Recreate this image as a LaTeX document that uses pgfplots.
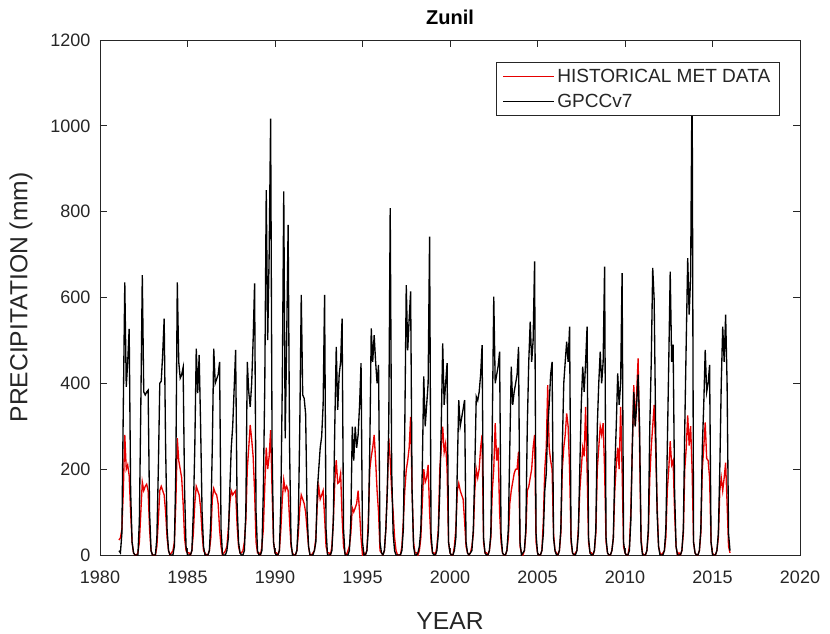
\documentclass[border=0pt]{standalone}
\usepackage{pgfplots}
\pgfplotsset{compat=1.18}
\usepackage{pgfplotstable}
\usepackage{fontspec}
\setmainfont{Liberation Sans}
\definecolor{axgray}{RGB}{38,38,38}
\definecolor{mred}{RGB}{230,0,0}

% monthly values Jan 1981 ... Dec 2015 (one line per year); g = GPCCv7, h = historical met data
\pgfplotstableread[row sep=\\]{
g h \\
10 35 \\ 5 40 \\ 50 60 \\ 350 150 \\ 635 280 \\ 392 200 \\ 450 210 \\ 527 185 \\ 150 100 \\ 30 30 \\ 5 5 \\ 0 0 \\
0 0 \\ 0 5 \\ 80 30 \\ 350 100 \\ 652 170 \\ 380 150 \\ 373 160 \\ 380 165 \\ 384 150 \\ 100 60 \\ 10 10 \\ 0 0 \\
0 0 \\ 0 0 \\ 40 20 \\ 200 80 \\ 400 150 \\ 405 160 \\ 470 150 \\ 551 140 \\ 250 100 \\ 60 40 \\ 10 10 \\ 0 0 \\
0 5 \\ 0 10 \\ 20 30 \\ 200 120 \\ 635 272 \\ 450 220 \\ 412 200 \\ 420 180 \\ 437 120 \\ 150 40 \\ 20 10 \\ 0 5 \\
0 5 \\ 0 0 \\ 10 10 \\ 100 50 \\ 250 120 \\ 481 160 \\ 377 150 \\ 466 140 \\ 300 110 \\ 100 50 \\ 20 10 \\ 0 5 \\
0 0 \\ 0 0 \\ 10 10 \\ 80 40 \\ 250 130 \\ 481 155 \\ 400 145 \\ 410 140 \\ 420 120 \\ 450 60 \\ 60 20 \\ 0 0 \\
0 5 \\ 0 10 \\ 10 20 \\ 40 60 \\ 150 120 \\ 250 150 \\ 300 140 \\ 388 145 \\ 478 150 \\ 120 70 \\ 30 20 \\ 5 5 \\
0 5 \\ 0 10 \\ 10 30 \\ 100 80 \\ 450 200 \\ 380 250 \\ 345 303 \\ 400 270 \\ 500 230 \\ 633 150 \\ 100 30 \\ 10 5 \\
0 5 \\ 0 0 \\ 10 20 \\ 150 60 \\ 400 160 \\ 850 250 \\ 501 200 \\ 700 230 \\ 1017 291 \\ 250 150 \\ 30 30 \\ 5 5 \\
0 5 \\ 0 0 \\ 10 10 \\ 120 60 \\ 400 130 \\ 847 175 \\ 272 150 \\ 500 160 \\ 769 150 \\ 250 80 \\ 30 20 \\ 0 5 \\
0 0 \\ 0 0 \\ 10 10 \\ 80 50 \\ 300 110 \\ 606 140 \\ 373 130 \\ 365 120 \\ 329 100 \\ 100 60 \\ 20 20 \\ 0 0 \\
0 0 \\ 0 5 \\ 10 10 \\ 30 40 \\ 150 120 \\ 200 159 \\ 250 130 \\ 276 140 \\ 350 150 \\ 606 90 \\ 60 20 \\ 0 5 \\
0 5 \\ 0 0 \\ 10 20 \\ 80 80 \\ 300 170 \\ 485 221 \\ 338 167 \\ 420 170 \\ 450 190 \\ 551 90 \\ 60 20 \\ 0 5 \\
0 0 \\ 0 10 \\ 10 20 \\ 80 50 \\ 299 110 \\ 220 100 \\ 299 110 \\ 250 120 \\ 280 150 \\ 350 100 \\ 447 40 \\ 30 0 \\
0 5 \\ 0 0 \\ 10 10 \\ 60 80 \\ 250 200 \\ 528 229 \\ 450 250 \\ 512 280 \\ 450 220 \\ 400 150 \\ 443 100 \\ 30 10 \\
5 5 \\ 0 0 \\ 10 10 \\ 60 60 \\ 150 150 \\ 300 272 \\ 808 221 \\ 200 150 \\ 50 100 \\ 10 40 \\ 0 10 \\ 0 0 \\
0 0 \\ 0 0 \\ 10 20 \\ 60 80 \\ 300 150 \\ 629 198 \\ 477 220 \\ 550 250 \\ 614 322 \\ 150 150 \\ 20 30 \\ 0 5 \\
0 5 \\ 5 0 \\ 20 10 \\ 60 40 \\ 200 120 \\ 416 200 \\ 300 170 \\ 350 180 \\ 400 210 \\ 742 100 \\ 50 30 \\ 5 5 \\
0 5 \\ 0 0 \\ 10 20 \\ 50 60 \\ 150 200 \\ 300 250 \\ 493 299 \\ 350 240 \\ 400 260 \\ 447 200 \\ 30 30 \\ 5 5 \\
0 0 \\ 0 0 \\ 10 20 \\ 40 60 \\ 200 150 \\ 361 167 \\ 300 150 \\ 320 140 \\ 340 130 \\ 361 80 \\ 30 20 \\ 5 5 \\
0 0 \\ 5 5 \\ 10 20 \\ 60 50 \\ 200 150 \\ 369 200 \\ 360 180 \\ 380 200 \\ 420 250 \\ 489 280 \\ 40 30 \\ 5 5 \\
0 5 \\ 0 0 \\ 10 10 \\ 50 40 \\ 300 150 \\ 602 200 \\ 400 307 \\ 420 220 \\ 440 250 \\ 474 100 \\ 50 30 \\ 5 5 \\
0 0 \\ 0 0 \\ 10 10 \\ 60 40 \\ 250 120 \\ 439 150 \\ 350 170 \\ 380 190 \\ 400 200 \\ 420 200 \\ 485 241 \\ 30 20 \\
0 5 \\ 5 0 \\ 10 10 \\ 60 50 \\ 300 150 \\ 450 159 \\ 544 180 \\ 450 200 \\ 500 250 \\ 684 280 \\ 50 30 \\ 5 5 \\
0 0 \\ 0 0 \\ 10 10 \\ 50 80 \\ 150 200 \\ 190 250 \\ 300 396 \\ 350 250 \\ 420 220 \\ 450 200 \\ 40 50 \\ 10 10 \\
0 5 \\ 0 0 \\ 10 10 \\ 60 50 \\ 250 200 \\ 400 250 \\ 450 280 \\ 497 330 \\ 450 300 \\ 532 200 \\ 40 30 \\ 5 5 \\
0 0 \\ 0 5 \\ 10 10 \\ 50 60 \\ 200 150 \\ 350 200 \\ 439 250 \\ 380 230 \\ 450 345 \\ 532 200 \\ 40 30 \\ 5 5 \\
0 5 \\ 0 0 \\ 10 10 \\ 60 50 \\ 300 200 \\ 400 250 \\ 474 300 \\ 400 280 \\ 450 307 \\ 672 200 \\ 40 30 \\ 5 5 \\
0 0 \\ 0 0 \\ 10 10 \\ 40 40 \\ 200 150 \\ 300 210 \\ 423 250 \\ 350 200 \\ 400 345 \\ 657 200 \\ 30 20 \\ 5 5 \\
0 0 \\ 0 0 \\ 10 20 \\ 80 100 \\ 250 250 \\ 380 396 \\ 300 300 \\ 350 380 \\ 420 458 \\ 300 250 \\ 30 40 \\ 0 5 \\
0 0 \\ 0 0 \\ 10 10 \\ 60 50 \\ 300 180 \\ 450 252 \\ 669 300 \\ 594 350 \\ 300 250 \\ 100 120 \\ 20 20 \\ 0 5 \\
0 0 \\ 0 5 \\ 10 10 \\ 60 40 \\ 250 150 \\ 450 200 \\ 660 265 \\ 450 210 \\ 490 220 \\ 150 100 \\ 20 20 \\ 0 0 \\
0 5 \\ 0 0 \\ 10 10 \\ 60 50 \\ 300 200 \\ 500 250 \\ 692 325 \\ 560 255 \\ 650 300 \\ 1130 200 \\ 30 30 \\ 5 5 \\
0 0 \\ 0 0 \\ 10 10 \\ 60 50 \\ 250 200 \\ 350 250 \\ 478 309 \\ 380 225 \\ 400 220 \\ 443 180 \\ 30 30 \\ 0 5 \\
0 0 \\ 0 0 \\ 10 10 \\ 50 40 \\ 200 150 \\ 400 180 \\ 532 150 \\ 450 180 \\ 560 215 \\ 400 120 \\ 50 20 \\ 10 5 \\
}\datatable

\begin{document}
\begin{tikzpicture}
\useasboundingbox (-75pt,-58.5pt) rectangle (547.5pt,416.25pt);
\begin{axis}[
  at={(0,0)}, anchor=south west,
  scale only axis, width=525pt, height=386.25pt,
  xmin=1980, xmax=2020, ymin=0, ymax=1200,
  xtick={1980,1985,...,2020}, ytick={0,200,...,1200},
  tick align=inside, major tick length=5pt,
  axis line style={axgray, line width=0.6pt},
  every tick/.style={axgray, line width=0.6pt},
  /pgf/number format/1000 sep={},
  /pgf/number format/assume math mode=true,
  ticklabel style={font=\fontsize{13.5}{15}\selectfont, text=axgray},
  yticklabel style={inner sep=0pt, anchor=east, xshift=-7pt},
  xticklabel style={inner sep=0pt, anchor=north, yshift=-12pt},
  xlabel={YEAR}, ylabel={PRECIPITATION (mm)},
  label style={font=\fontsize{18.5}{21}\selectfont, text=axgray},
  xlabel style={at={(axis description cs:0.5,-0.128)}, anchor=center},
  ylabel style={at={(axis description cs:-0.113,0.5)}, anchor=center},
  title={Zunil},
  title style={at={(axis description cs:0.5,1.005)}, anchor=south, font=\bfseries\fontsize{15}{17}\selectfont, text=black},
  legend style={at={(axis description cs:0.9714,0.9573)}, anchor=north east,
    draw=axgray, fill=white, line width=0.6pt, font=\fontsize{14.3}{16}\selectfont, text=axgray,
    inner xsep=5pt, inner ysep=3pt, row sep=3pt},
  legend cell align=left,
  legend image code/.code={\draw[#1] (0pt,0pt) -- (38pt,0pt);},
]
\addplot[mred, line width=1pt] table[x expr=1981+(\coordindex+1)/12, y=h]{\datatable};
\addlegendentry{HISTORICAL MET DATA}
\addplot[black, line width=1pt] table[x expr=1981+(\coordindex+1)/12, y=g]{\datatable};
\addlegendentry{GPCCv7}
\end{axis}
\end{tikzpicture}
\end{document}
